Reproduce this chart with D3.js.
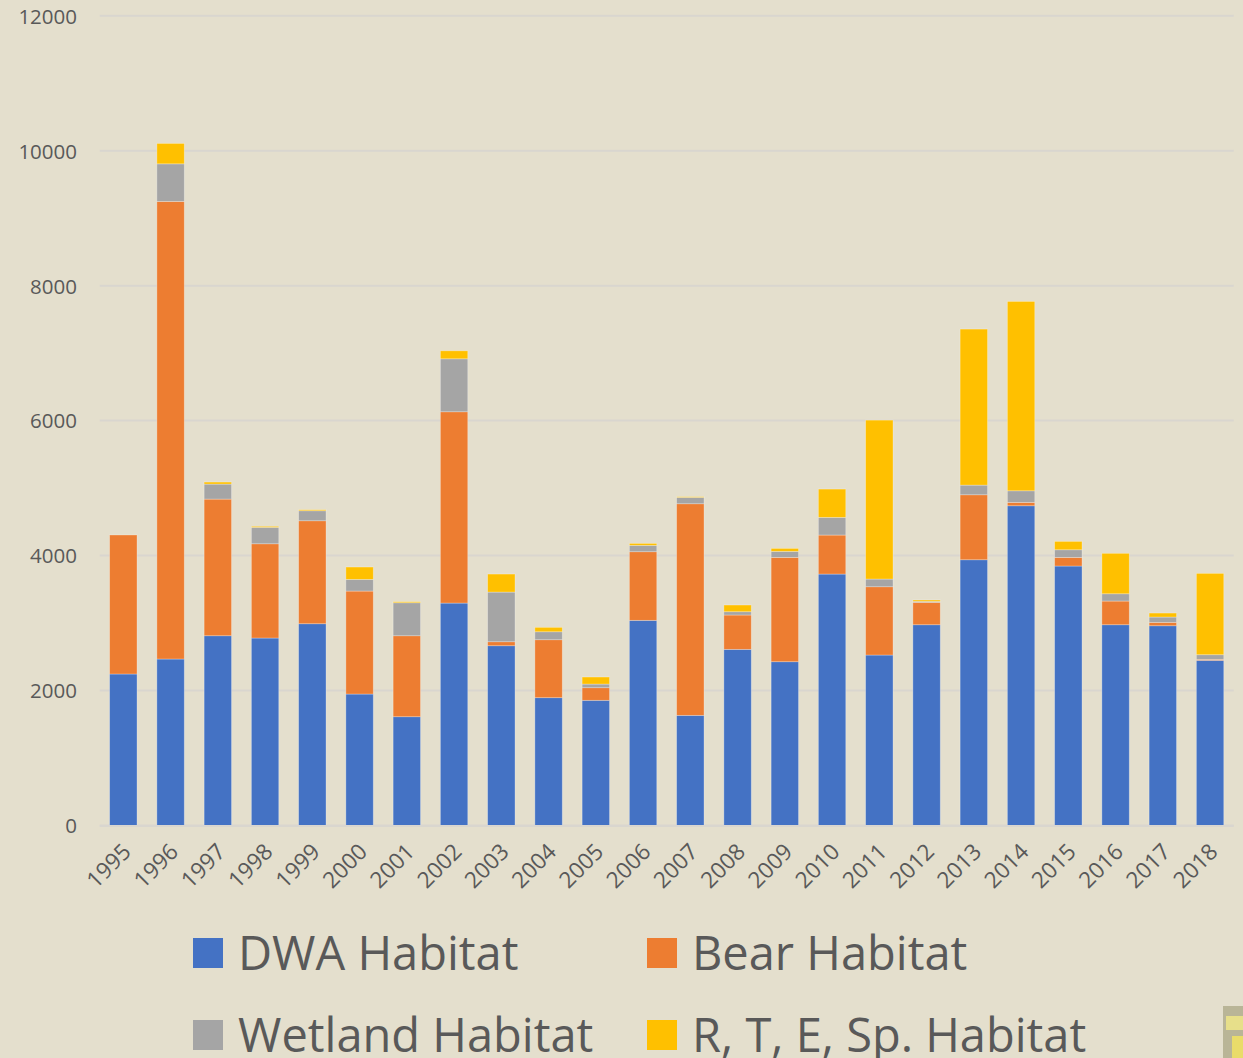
<!DOCTYPE html>
<html>
<head>
<meta charset="utf-8">
<script src="https://cdn.jsdelivr.net/npm/d3@7"></script>
<style>
  html, body { margin: 0; padding: 0; background: #e4dfcd; }
  svg { display: block; }
</style>
</head>
<body>
<svg id="chart" width="1243" height="1058"></svg>
<script>
const years = ["1995","1996","1997","1998","1999","2000","2001","2002","2003","2004","2005","2006","2007","2008","2009","2010","2011","2012","2013","2014","2015","2016","2017","2018"];
const dwaHabitat     = [2245,2467,2812,2778,2990,1948,1612,3296,2664,1894,1855,3040,1632,2610,2427,3726,2526,2975,3938,4738,3845,2975,2960,2447];
const bearHabitat    = [2060,6781,2025,1397,1526,1526,1200,2835,  59, 859, 187,1017,3136, 509,1546, 578,1012, 331, 963,  50, 128, 351,  50,  15];
const wetlandHabitat = [   0, 557, 222, 243, 148, 173, 489, 785, 736, 118,  54,  94,  94,  49,  89, 262, 114,  15, 143, 172, 113, 108,  79,  69];
const rteHabitat     = [   0, 302,  30,  15,  15, 183,  15, 118, 267,  65, 104,  29,  10,  99,  44, 419,2355,  20,2312,2806, 124, 599,  59,1205];
const seriesNames = ["DWA Habitat","Bear Habitat","Wetland Habitat","R, T, E, Sp. Habitat"];
const seriesColors = ["#4472c4","#ed7d31","#a5a5a5","#ffc000"];
const yTicks = [0,2000,4000,6000,8000,10000,12000];

const svg = d3.select("#chart");
const font = "'Open Sans', 'Liberation Sans', sans-serif";
const textColor = "#595959";

const x = d3.scaleBand().domain(years).range([99.7, 1233.7]).paddingInner(0.42).paddingOuter(0.21);
const y = d3.scaleLinear().domain([0, 12000]).range([825.5, 15.7]);

// gridlines
svg.append("g").selectAll("line").data(yTicks).join("line")
  .attr("x1", 99.7).attr("x2", 1233.7)
  .attr("y1", d => y(d)).attr("y2", d => y(d))
  .attr("stroke", "#d9d6cf").attr("stroke-width", 2);

// y axis
const yAxis = d3.axisLeft(y).tickValues(yTicks).tickSize(0).tickPadding(0).tickFormat(d3.format("d"));
const yg = svg.append("g").attr("transform", "translate(77,0)").call(yAxis);
yg.select(".domain").remove();
yg.selectAll("text").attr("font-family", font).attr("font-size", 20.5).attr("fill", textColor).attr("dy", "0.36em");

// stacked data
const table = years.map((yr, i) => ({
  year: yr,
  s0: dwaHabitat[i], s1: bearHabitat[i], s2: wetlandHabitat[i], s3: rteHabitat[i]
}));
const stack = d3.stack().keys(["s0","s1","s2","s3"]);
const stacked = stack(table);

svg.append("g").selectAll("g").data(stacked).join("g")
  .attr("fill", (d, i) => seriesColors[i])
  .selectAll("rect").data(d => d).join("rect")
  .attr("x", d => x(d.data.year))
  .attr("width", x.bandwidth())
  .attr("y", d => y(d[1]))
  .attr("height", d => Math.max(0, y(d[0]) - y(d[1])))
  .attr("stroke", "rgba(255,255,255,0.35)")
  .attr("stroke-width", 0.8);

// baseline
svg.append("line").attr("x1", 99.7).attr("x2", 1233.7).attr("y1", y(0)+0.5).attr("y2", y(0)+0.5)
  .attr("stroke", "#d9d6cf").attr("stroke-width", 2);

// x axis labels
const xAxis = d3.axisBottom(x).tickSize(0).tickPadding(0);
const xg = svg.append("g").attr("transform", "translate(0,842)").call(xAxis);
xg.select(".domain").remove();
xg.selectAll("text")
  .attr("font-family", font).attr("font-size", 22.5).attr("fill", textColor)
  .attr("text-anchor", "end")
  .attr("dy", "0.7em")
  .attr("transform", "translate(-2,0) rotate(-45)");

// legend
const legendPos = [[193, 938], [647, 938], [193, 1020], [647, 1020]];
const lg = svg.append("g").selectAll("g").data(seriesNames).join("g")
  .attr("transform", (d, i) => `translate(${legendPos[i][0]},${legendPos[i][1]})`);
lg.append("rect").attr("width", 30).attr("height", 30).attr("fill", (d, i) => seriesColors[i]);
lg.append("text").attr("x", 45).attr("y", 32)
  .attr("font-family", font).attr("font-size", 47).attr("fill", textColor)
  .text(d => d);

// small logo fragment at bottom right
svg.append("rect").attr("x", 1223).attr("y", 1006).attr("width", 20).attr("height", 52).attr("fill", "#b9b597");
svg.append("rect").attr("x", 1226).attr("y", 1016).attr("width", 17).attr("height", 14).attr("fill", "#e7df8a");
svg.append("rect").attr("x", 1232).attr("y", 1036).attr("width", 11).attr("height", 22).attr("fill", "#e9dc6a");
</script>
</body>
</html>
